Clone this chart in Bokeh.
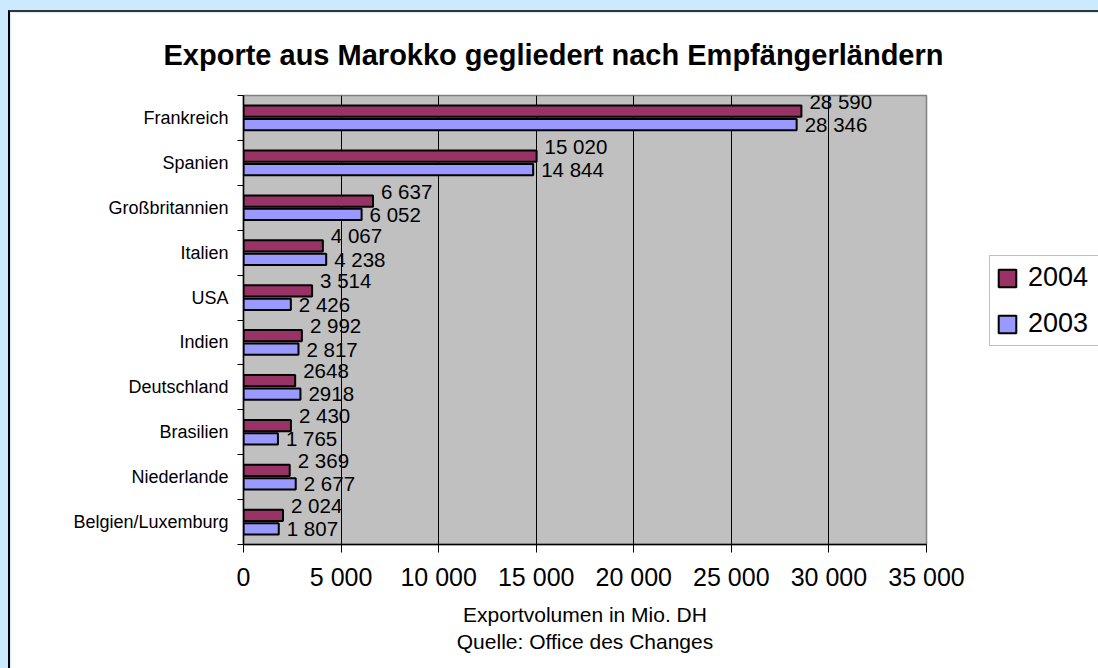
from bokeh.plotting import figure
from bokeh.models import ColumnDataSource, Range1d, FixedTicker, Legend, LegendItem
from bokeh.transform import dodge
from bokeh.core.properties import value
from bokeh.embed import file_html
from bokeh.resources import INLINE

countries = ["Frankreich", "Spanien", "Großbritannien", "Italien", "USA", "Indien",
             "Deutschland", "Brasilien", "Niederlande", "Belgien/Luxemburg"]
exports_2004 = [28590, 15020, 6637, 4067, 3514, 2992, 2648, 2430, 2369, 2024]
exports_2003 = [28346, 14844, 6052, 4238, 2426, 2817, 2918, 1765, 2677, 1807]
labels_2004 = ["28 590", "15 020", "6 637", "4 067", "3 514", "2 992", "2648", "2 430", "2 369", "2 024"]
labels_2003 = ["28 346", "14 844", "6 052", "4 238", "2 426", "2 817", "2918", "1 765", "2 677", "1 807"]
x_ticks = [0, 5000, 10000, 15000, 20000, 25000, 30000, 35000]
x_tick_labels = ["0", "5 000", "10 000", "15 000", "20 000", "25 000", "30 000", "35 000"]
series_names = ["2004", "2003"]

FONT = "Liberation Sans"
MAROON = "#993366"
LAVENDER = "#9999ff"

pos = [i + 0.5 for i in range(len(countries))]
src = ColumnDataSource(dict(pos=pos, country=countries, v2004=exports_2004, v2003=exports_2003,
                            l2004=labels_2004, l2003=labels_2003))

p = figure(frame_width=683, frame_height=449, output_backend="svg", toolbar_location=None,
           x_range=Range1d(0, 35000), y_range=Range1d(len(countries), 0),
           min_border_left=233, min_border_right=172, min_border_top=81, min_border_bottom=126,
           background_fill_color="#c0c0c0", border_fill_color="white",
           outline_line_color="#808080", outline_line_width=1.5,
           styles={"border-left": "2px solid #000000", "border-top": "2px solid #333333",
                   "margin-top": "10px", "margin-left": "8px"})

p.title.text = "Exporte aus Marokko gegliedert nach Empfängerländern"
p.title.text_font = FONT
p.title.text_font_size = "29px"
p.title.text_font_style = "bold"
p.title.text_color = "black"
p.title.align = "left"
p.title.offset = -80
p.title.standoff = 49

r2004 = p.hbar(y=dodge("pos", -0.15, range=p.y_range), right="v2004", height=0.25, source=src,
               fill_color=MAROON, line_color="black", line_width=2)
r2003 = p.hbar(y=dodge("pos", 0.15, range=p.y_range), right="v2003", height=0.25, source=src,
               fill_color=LAVENDER, line_color="black", line_width=2)

p.text(x="v2004", y=dodge("pos", -0.15, range=p.y_range), text="l2004", source=src,
       x_offset=8, y_offset=-10, text_baseline="middle", text_align="left",
       text_font=value(FONT), text_font_size="20.5px", text_color="black")
p.text(x="v2003", y=dodge("pos", 0.15, range=p.y_range), text="l2003", source=src,
       x_offset=8, y_offset=0, text_baseline="middle", text_align="left",
       text_font=value(FONT), text_font_size="20.5px", text_color="black")

# x axis
xa = p.xaxis[0]
xa.ticker = FixedTicker(ticks=x_ticks)
xa.major_label_overrides = {t: s for t, s in zip(x_ticks, x_tick_labels)}
xa.major_label_text_font = FONT
xa.major_label_text_font_size = "25px"
xa.major_label_text_color = "black"
xa.major_label_standoff = 10
xa.major_tick_out = 8
xa.major_tick_in = 0
xa.major_tick_line_color = "black"
xa.minor_tick_line_color = None
xa.axis_line_color = "black"
xa.axis_line_width = 1.5
xa.axis_label = "Exportvolumen in Mio. DH\nQuelle: Office des Changes"
xa.axis_label_text_font = FONT
xa.axis_label_text_font_size = "21px"
xa.axis_label_text_font_style = "normal"
xa.axis_label_text_color = "black"
xa.axis_label_standoff = 9

# y axis
ya = p.yaxis[0]
ya.ticker = FixedTicker(ticks=pos, minor_ticks=list(range(len(countries) + 1)))
ya.major_label_overrides = {t: c for t, c in zip(pos, countries)}
ya.major_label_text_font = FONT
ya.major_label_text_font_size = "18px"
ya.major_label_text_color = "black"
ya.major_label_standoff = 9
ya.major_tick_out = 0
ya.major_tick_in = 0
ya.minor_tick_out = 6
ya.minor_tick_in = 0
ya.minor_tick_line_color = "black"
ya.axis_line_color = "black"
ya.axis_line_width = 1.5

p.xgrid.ticker = FixedTicker(ticks=x_ticks)
p.xgrid.grid_line_color = "black"
p.xgrid.grid_line_width = 1
p.ygrid.grid_line_color = None

legend = Legend(items=[LegendItem(label=series_names[0], renderers=[r2004]),
                       LegendItem(label=series_names[1], renderers=[r2003])],
                location=(63, 198), orientation="vertical",
                label_text_font=FONT, label_text_font_size="27px", label_text_color="black",
                glyph_width=22, glyph_height=22, label_height=24, label_width=80,
                label_standoff=10, spacing=15, padding=6, margin=0,
                border_line_color="#808080", border_line_width=1.5,
                background_fill_color="white", background_fill_alpha=1.0)
p.add_layout(legend, "right")

html = file_html(p, INLINE, "Exporte aus Marokko")
html = html.replace("</head>", "<style>html,body{background:#cceaff;overflow:hidden;}</style></head>", 1)
with open("out.html", "w") as f:
    f.write(html)
